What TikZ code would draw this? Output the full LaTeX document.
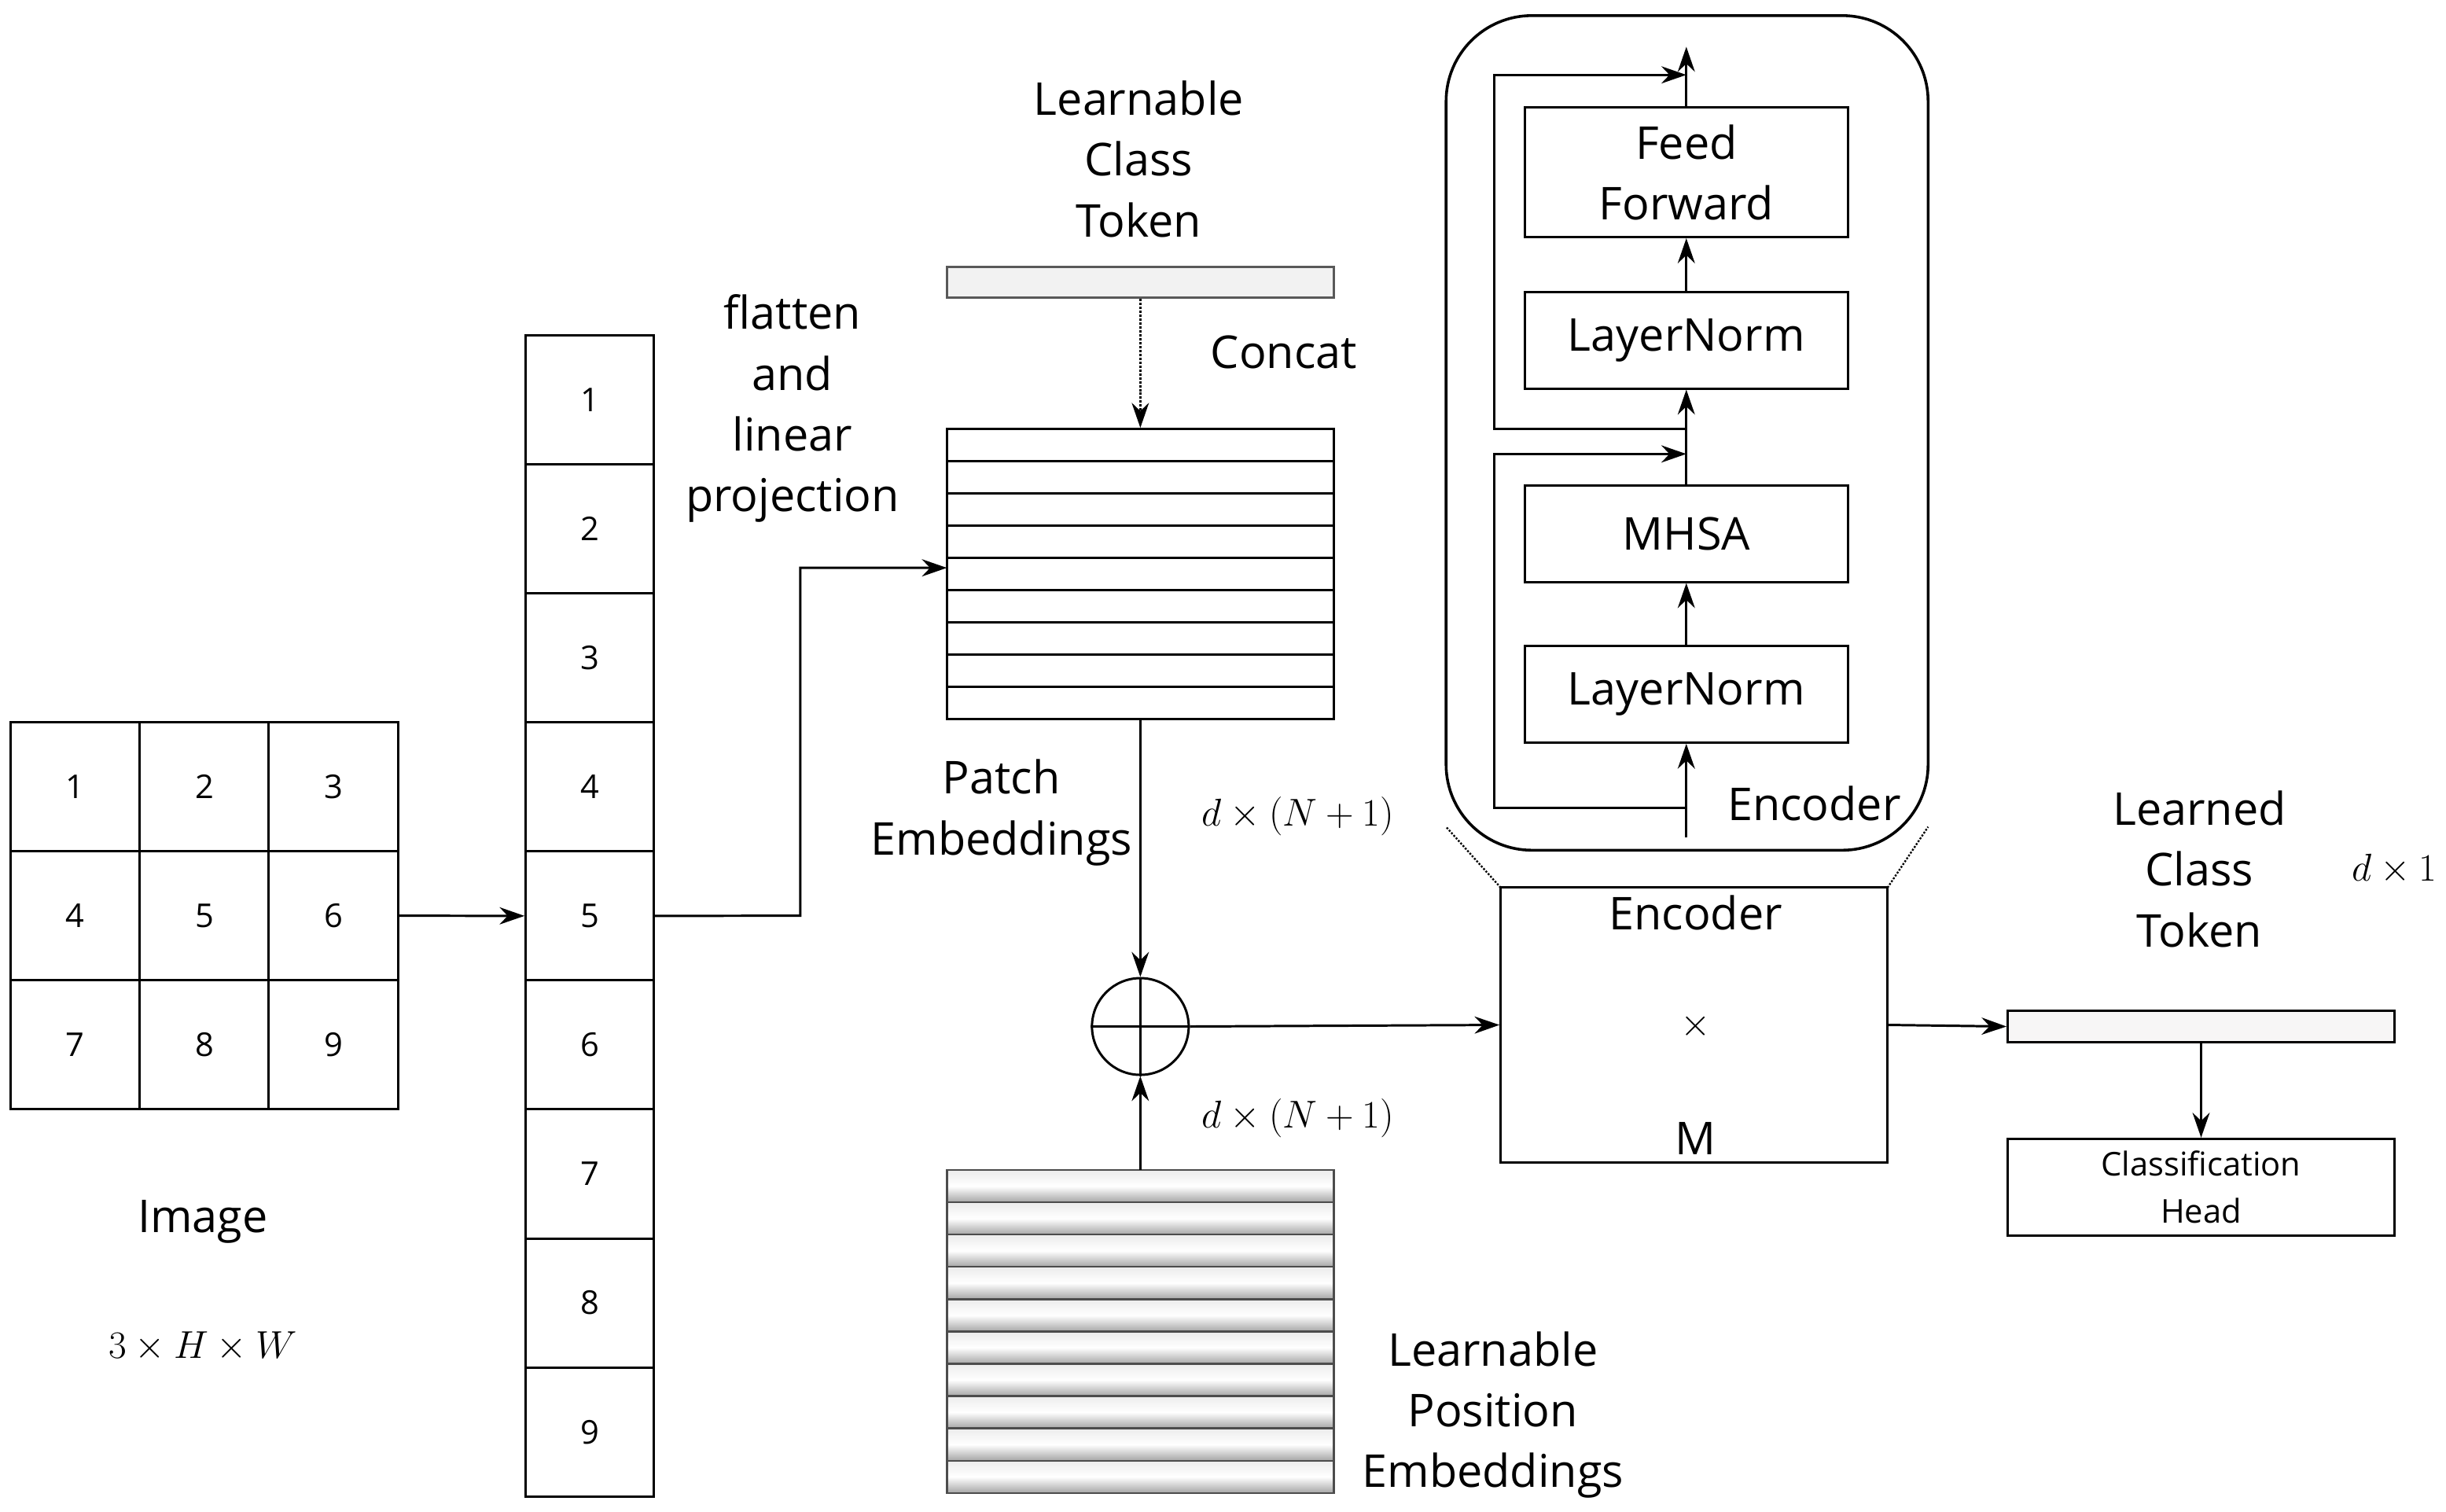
\documentclass[tikz,border=0pt]{standalone}
\usepackage{fontspec}
\setmainfont{Open Sans}
\usepackage{amsmath}
\usetikzlibrary{arrows.meta}
\begin{document}
\begin{tikzpicture}[x=1pt,y=-1pt,
  box/.style={draw,line width=1.5pt,inner sep=0pt},
  lab/.style={font=\fontsize{29}{39}\selectfont,align=center,inner sep=0pt},
  num/.style={font=\fontsize{21}{25}\selectfont,inner sep=0pt},
  mth/.style={font=\fontsize{27}{30}\selectfont,inner sep=0pt},
  arr/.style={line width=1.5pt,-{Stealth[length=16pt,width=11pt]}},
  ln/.style={line width=1.5pt}]
\useasboundingbox[fill=white] (0,0) rectangle (1568,969);
% image grid
\foreach \r in {0,1,2}{\foreach \c in {0,1,2}{
 \pgfmathtruncatemacro{\n}{\r*3+\c+1}
 \node[box,minimum width=82.7pt,minimum height=82.7pt,num] (g\n) at ({48.3+\c*82.7},{504.3+\r*82.7}) {\n};}}
\node[lab] (imgl) at (130,783) {Image};
\node[mth] (imgd) at (130,863) {$3\times H\times W$};
% column
\foreach \i in {1,...,9}{
 \node[box,minimum width=82pt,minimum height=82.7pt,num] (c\i) at (378,{256.3+(\i-1)*82.7}) {\i};}
\draw[arr] (g6.east) -- (c5.west);
\node[lab] (fl) at (508,262) {flatten\\and\\linear\\projection};
% class token
\node[lab] (lct) at (730,102) {Learnable\\Class\\Token};
\node[draw=gray!70!black,line width=1.5pt,fill=gray!10,minimum width=248pt,minimum height=20pt,inner sep=0pt] (ct) at (731,181) {};
\node[lab] (cc) at (823,226) {Concat};
% patch embeddings
\node[box,minimum width=248pt,minimum height=186pt] (pe) at (731,368) {};
\foreach \k in {1,...,8}{\draw[ln] (607,{275+\k*20.67}) -- (855,{275+\k*20.67});}
\draw[line width=1.5pt,densely dotted,-{Stealth[length=16pt,width=11pt]}] (ct.south) -- (pe.north);
\coordinate (k1) at (513,587);
\coordinate (k2) at (513,364);
\draw[arr] (c5.east) -- (k1) -- (k2) -- (607,364);
\node[lab] (pel) at (642,521) {Patch\\Embeddings};
\node[mth] (d1) at (832,523) {$d\times(N+1)$};
\node[mth] (d2) at (832,717) {$d\times(N+1)$};
% oplus
\node[draw,circle,line width=1.5pt,minimum size=62pt,inner sep=0pt] (op) at (731,658) {};
\draw[ln] (op.north) -- (op.south) (op.west) -- (op.east);
\draw[arr] (pe.south) -- (op.north);
% position embeddings
\foreach \k in {0,...,9}{
 \shade[top color=gray!15,bottom color=gray!70,middle color=white] (607,{750+\k*20.7}) rectangle (855,{750+(\k+1)*20.7});
 \draw[line width=1.2pt,gray!60!black] (607,{750+\k*20.7}) rectangle (855,{750+(\k+1)*20.7});}
\node[minimum width=248pt,minimum height=207pt,inner sep=0pt] (pos) at (731,853.5) {};
\draw[arr] (pos.north) -- (op.south);
\node[lab] (lpe) at (957,907) {Learnable\\Position\\Embeddings};
% encoder
\node[box,minimum width=248pt,minimum height=176pt] (enc) at (1086,657) {};
\node[lab] at (1087,585) {Encoder};
\node[lab] at (1087,658) {$\times$};
\node[lab] at (1087,730) {M};
\draw[arr] (op.east) -- (enc.west);
% big rounded
\draw[line width=1.8pt,rounded corners=55pt] (927,10) rectangle (1236,545);
\draw[line width=1.2pt,densely dotted] (962,569) -- (927,530) (1210,569) -- (1236,530);
\node[box,lab,minimum width=207pt,minimum height=62pt] (ln1) at (1081,445) {LayerNorm};
\node[box,lab,minimum width=207pt,minimum height=62pt] (mh) at (1081,342) {MHSA};
\node[box,lab,minimum width=207pt,minimum height=62pt] (ln2) at (1081,218) {LayerNorm};
\node[box,lab,minimum width=207pt,minimum height=83pt] (ff) at (1081,110.5) {Feed\\Forward};
\node[lab] (encl) at (1163,515) {Encoder};
\coordinate (e0) at (1081,537);
\coordinate (s1) at (1081,518);
\coordinate (a1) at (958,518);
\coordinate (a2) at (958,291);
\coordinate (t1) at (1081,291);
\coordinate (s2) at (1081,275);
\coordinate (b1) at (958,275);
\coordinate (b2) at (958,48);
\coordinate (t2) at (1081,48);
\coordinate (top) at (1081,30);
\draw[arr] (e0) -- (ln1.south);
\draw[arr] (ln1.north) -- (mh.south);
\draw[arr] (mh.north) -- (ln2.south);
\draw[arr] (ln2.north) -- (ff.south);
\draw[arr] (ff.north) -- (top);
\draw[arr] (s1) -- (a1) -- (a2) -- (t1);
\draw[arr] (s2) -- (b1) -- (b2) -- (t2);
% learned token
\node[box,fill=yellow!4!gray!8,minimum width=248pt,minimum height=20pt] (lt) at (1411,658) {};
\draw[arr] (enc.east) -- (lt.west);
\node[lab] (ltl) at (1410,557) {Learned\\Class\\Token};
\node[mth] (d3) at (1535,557) {$d\times1$};
\node[box,minimum width=248pt,minimum height=62pt,font=\fontsize{21}{30}\selectfont,align=center] (ch) at (1411,761) {Classification\\Head};
\draw[arr] (lt.south) -- (ch.north);
\end{tikzpicture}
\end{document}
